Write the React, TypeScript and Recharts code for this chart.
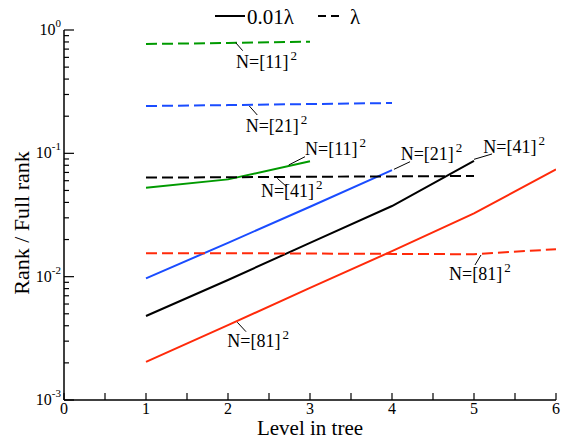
import React from "react";
import {LineChart, Line, XAxis, YAxis, ReferenceLine, ReferenceDot} from "recharts";

const FONT = "'Liberation Serif', 'Times New Roman', serif";
const TXT = {fontFamily: FONT};

// tree levels (x)
const levels = [1, 2, 3, 4, 5, 6];

// 0.01 lambda, solid lines
const fine11 = [0.0526, 0.0615, 0.0861];
const fine21 = [0.0097, 0.0188, 0.0369, 0.0732];
const fine41 = [0.0048, 0.0094, 0.0188, 0.0374, 0.087];
const fine81 = [0.00204, 0.00405, 0.0081, 0.0161, 0.0326, 0.0741];

// lambda, dashed lines
const coarse11 = [0.77, 0.785, 0.804];
const coarse21 = [0.242, 0.246, 0.251, 0.256];
const coarse41 = [0.0636, 0.064, 0.0646, 0.065, 0.0655];
const coarse81 = [0.0155, 0.0155, 0.0154, 0.0153, 0.0152, 0.0167];

const xTicks = [0, 0.5, 1, 1.5, 2, 2.5, 3, 3.5, 4, 4.5, 5, 5.5, 6];
const yDecades = [0.001, 0.01, 0.1, 1];
const yExponents = ["-3", "-2", "-1", "0"];
const yMinor = [2, 3, 4, 5, 6, 7, 8, 9];

const GREEN = "#009a00";
const BLUE = "#1a4cff";
const RED = "#ff2a0a";
const BLACK = "#000000";

const series = [
    {key: "f11", values: fine11, color: GREEN, dashed: false},
    {key: "f21", values: fine21, color: BLUE, dashed: false},
    {key: "f41", values: fine41, color: BLACK, dashed: false},
    {key: "f81", values: fine81, color: RED, dashed: false},
    {key: "c11", values: coarse11, color: GREEN, dashed: true},
    {key: "c21", values: coarse21, color: BLUE, dashed: true},
    {key: "c41", values: coarse41, color: BLACK, dashed: true},
    {key: "c81", values: coarse81, color: RED, dashed: true},
];

// label text, leader line (from -> to) and text anchor, in data units
const notes = [
    {n: "11", from: [2.094, 0.789], to: [2.179, 0.68], at: [2.098, 0.495]},
    {n: "21", from: [2.26, 0.242], to: [2.357, 0.2046], at: [2.216, 0.1498]},
    {n: "11", from: [2.74, 0.0804], to: [2.939, 0.0939], at: [2.939, 0.0969]},
    {n: "41", from: [2.601, 0.0627], to: [2.716, 0.0536], at: [2.402, 0.044]},
    {n: "21", from: [4.024, 0.0742], to: [4.22, 0.0855], at: [4.106, 0.0883]},
    {n: "41", from: [5.0, 0.0894], to: [5.22, 0.0988], at: [5.113, 0.1]},
    {n: "81", from: [5.085, 0.01498], to: [5.012, 0.01243], at: [4.695, 0.0094]},
    {n: "81", from: [2.113, 0.00427], to: [2.22, 0.00358], at: [1.991, 0.0027]},
];

const yTicks: number[] = [];
yDecades.forEach((d, i) => {
    yTicks.push(d);
    if (i < yDecades.length - 1) yMinor.forEach(m => yTicks.push(+(d * m).toPrecision(3)));
});

const data = levels.map((x, i) => {
    const row: any = {x};
    series.forEach(s => {
        if (i < s.values.length) row[s.key] = s.values[i];
    });
    return row;
});

const isMajorY = (v: number) => yDecades.some(d => Math.abs(d - v) < d * 1e-6);

const BottomTick = (props: any) => {
    const {x, y, payload} = props;
    const v = payload.value;
    return (
        <g>
            <line x1={x} y1={y} x2={x} y2={y - 7} stroke="#000" strokeWidth={1.2}/>
            {Number.isInteger(v) &&
                <text x={x} y={y + 14} textAnchor="middle" fontSize={16} style={TXT} fill="#000">{v}</text>}
        </g>
    );
};

const TopTick = (props: any) => {
    const {x, y} = props;
    return <line x1={x} y1={y} x2={x} y2={y + 7} stroke="#000" strokeWidth={1.2}/>;
};

const LeftTick = (props: any) => {
    const {x, y, payload} = props;
    const v = payload.value;
    const major = isMajorY(v);
    const idx = yDecades.findIndex(d => Math.abs(d - v) < d * 1e-6);
    return (
        <g>
            <line x1={x} y1={y} x2={x + (major ? 10 : 5)} y2={y} stroke="#000" strokeWidth={1.2}/>
            {major &&
                <text x={x - 3} y={y + 5} textAnchor="end" fontSize={16} style={TXT} fill="#000">
                    10<tspan dy={-8} fontSize={11}>{yExponents[idx]}</tspan>
                </text>}
        </g>
    );
};

const RightTick = (props: any) => {
    const {x, y, payload} = props;
    const major = isMajorY(payload.value);
    return <line x1={x} y1={y} x2={x - (major ? 10 : 5)} y2={y} stroke="#000" strokeWidth={1.2}/>;
};

const YTitle = (props: any) => {
    const vb = props.viewBox;
    const cx = vb.x + 29;
    const cy = 223;
    return (
        <text x={cx} y={cy} transform={`rotate(-90 ${cx} ${cy})`} textAnchor="middle" fontSize={22}
              style={TXT} fill="#000">Rank / Full rank</text>
    );
};

const XTitle = (props: any) => {
    const vb = props.viewBox;
    return (
        <text x={vb.x + vb.width / 2} y={vb.y + 35} textAnchor="middle" fontSize={21} style={TXT}
              fill="#000">Level in tree</text>
    );
};

const NoteLabel = (n: string) => (props: any) => {
    const vb = props.viewBox;
    return (
        <text x={vb.x} y={vb.y} fontSize={18} style={TXT} fill="#000">
            N=[{n}]<tspan dx={2} dy={-8} fontSize={13}>2</tspan>
        </text>
    );
};

export default function App() {
    return (
        <div style={{position: "absolute", left: 0, top: 0, width: 577, height: 442, background: "#fff"}}>
            <LineChart width={577} height={442} data={data} margin={{top: 30, right: 21, bottom: 0, left: 0}}>
                <XAxis dataKey="x" type="number" domain={[0, 6]} ticks={xTicks} interval={0} allowDataOverflow
                       tickSize={0} tickMargin={0} tick={<BottomTick/>} height={42}
                       axisLine={{stroke: "#000", strokeWidth: 1.5}} tickLine={false} label={<XTitle/>}/>
                <XAxis xAxisId="top" orientation="top" type="number" domain={[0, 6]} ticks={xTicks} interval={0}
                       allowDataOverflow tickSize={0} tickMargin={0} tick={<TopTick/>} height={0}
                       axisLine={{stroke: "#000", strokeWidth: 1.5}} tickLine={false}/>
                <YAxis type="number" scale="log" domain={[0.001, 1]} ticks={yTicks} interval={0} allowDataOverflow
                       tickSize={0} tickMargin={0} tick={<LeftTick/>} width={64}
                       axisLine={{stroke: "#000", strokeWidth: 1.5}} tickLine={false} label={<YTitle/>}/>
                <YAxis yAxisId="right" orientation="right" type="number" scale="log" domain={[0.001, 1]}
                       ticks={yTicks} interval={0} allowDataOverflow tickSize={0} tickMargin={0}
                       tick={<RightTick/>} width={0} axisLine={{stroke: "#000", strokeWidth: 1.5}} tickLine={false}/>
                {series.map(s => (
                    <Line key={s.key} dataKey={s.key} type="linear" stroke={s.color} strokeWidth={2}
                          strokeDasharray={s.dashed ? "11 5" : undefined} dot={false} activeDot={false}
                          isAnimationActive={false}/>
                ))}
                {notes.map((a, i) => (
                    <ReferenceLine key={"l" + i} segment={[{x: a.from[0], y: a.from[1]}, {x: a.to[0], y: a.to[1]}]}
                                   stroke="#000" strokeWidth={1} ifOverflow="visible"/>
                ))}
                {notes.map((a, i) => (
                    <ReferenceDot key={"t" + i} x={a.at[0]} y={a.at[1]} r={0} stroke="none" fill="none"
                                  ifOverflow="visible" label={{content: NoteLabel(a.n)}}/>
                ))}
            </LineChart>
            <svg width={577} height={30} style={{position: "absolute", left: 0, top: 0}}>
                <line x1={215} y1={16} x2={245} y2={16} stroke="#000" strokeWidth={2}/>
                <text x={247} y={24} fontSize={21} style={TXT} fill="#000">0.01λ</text>
                <line x1={318} y1={16} x2={340} y2={16} stroke="#000" strokeWidth={2} strokeDasharray="8 5"/>
                <text x={350} y={24} fontSize={21} style={TXT} fill="#000">λ</text>
            </svg>
        </div>
    );
}
